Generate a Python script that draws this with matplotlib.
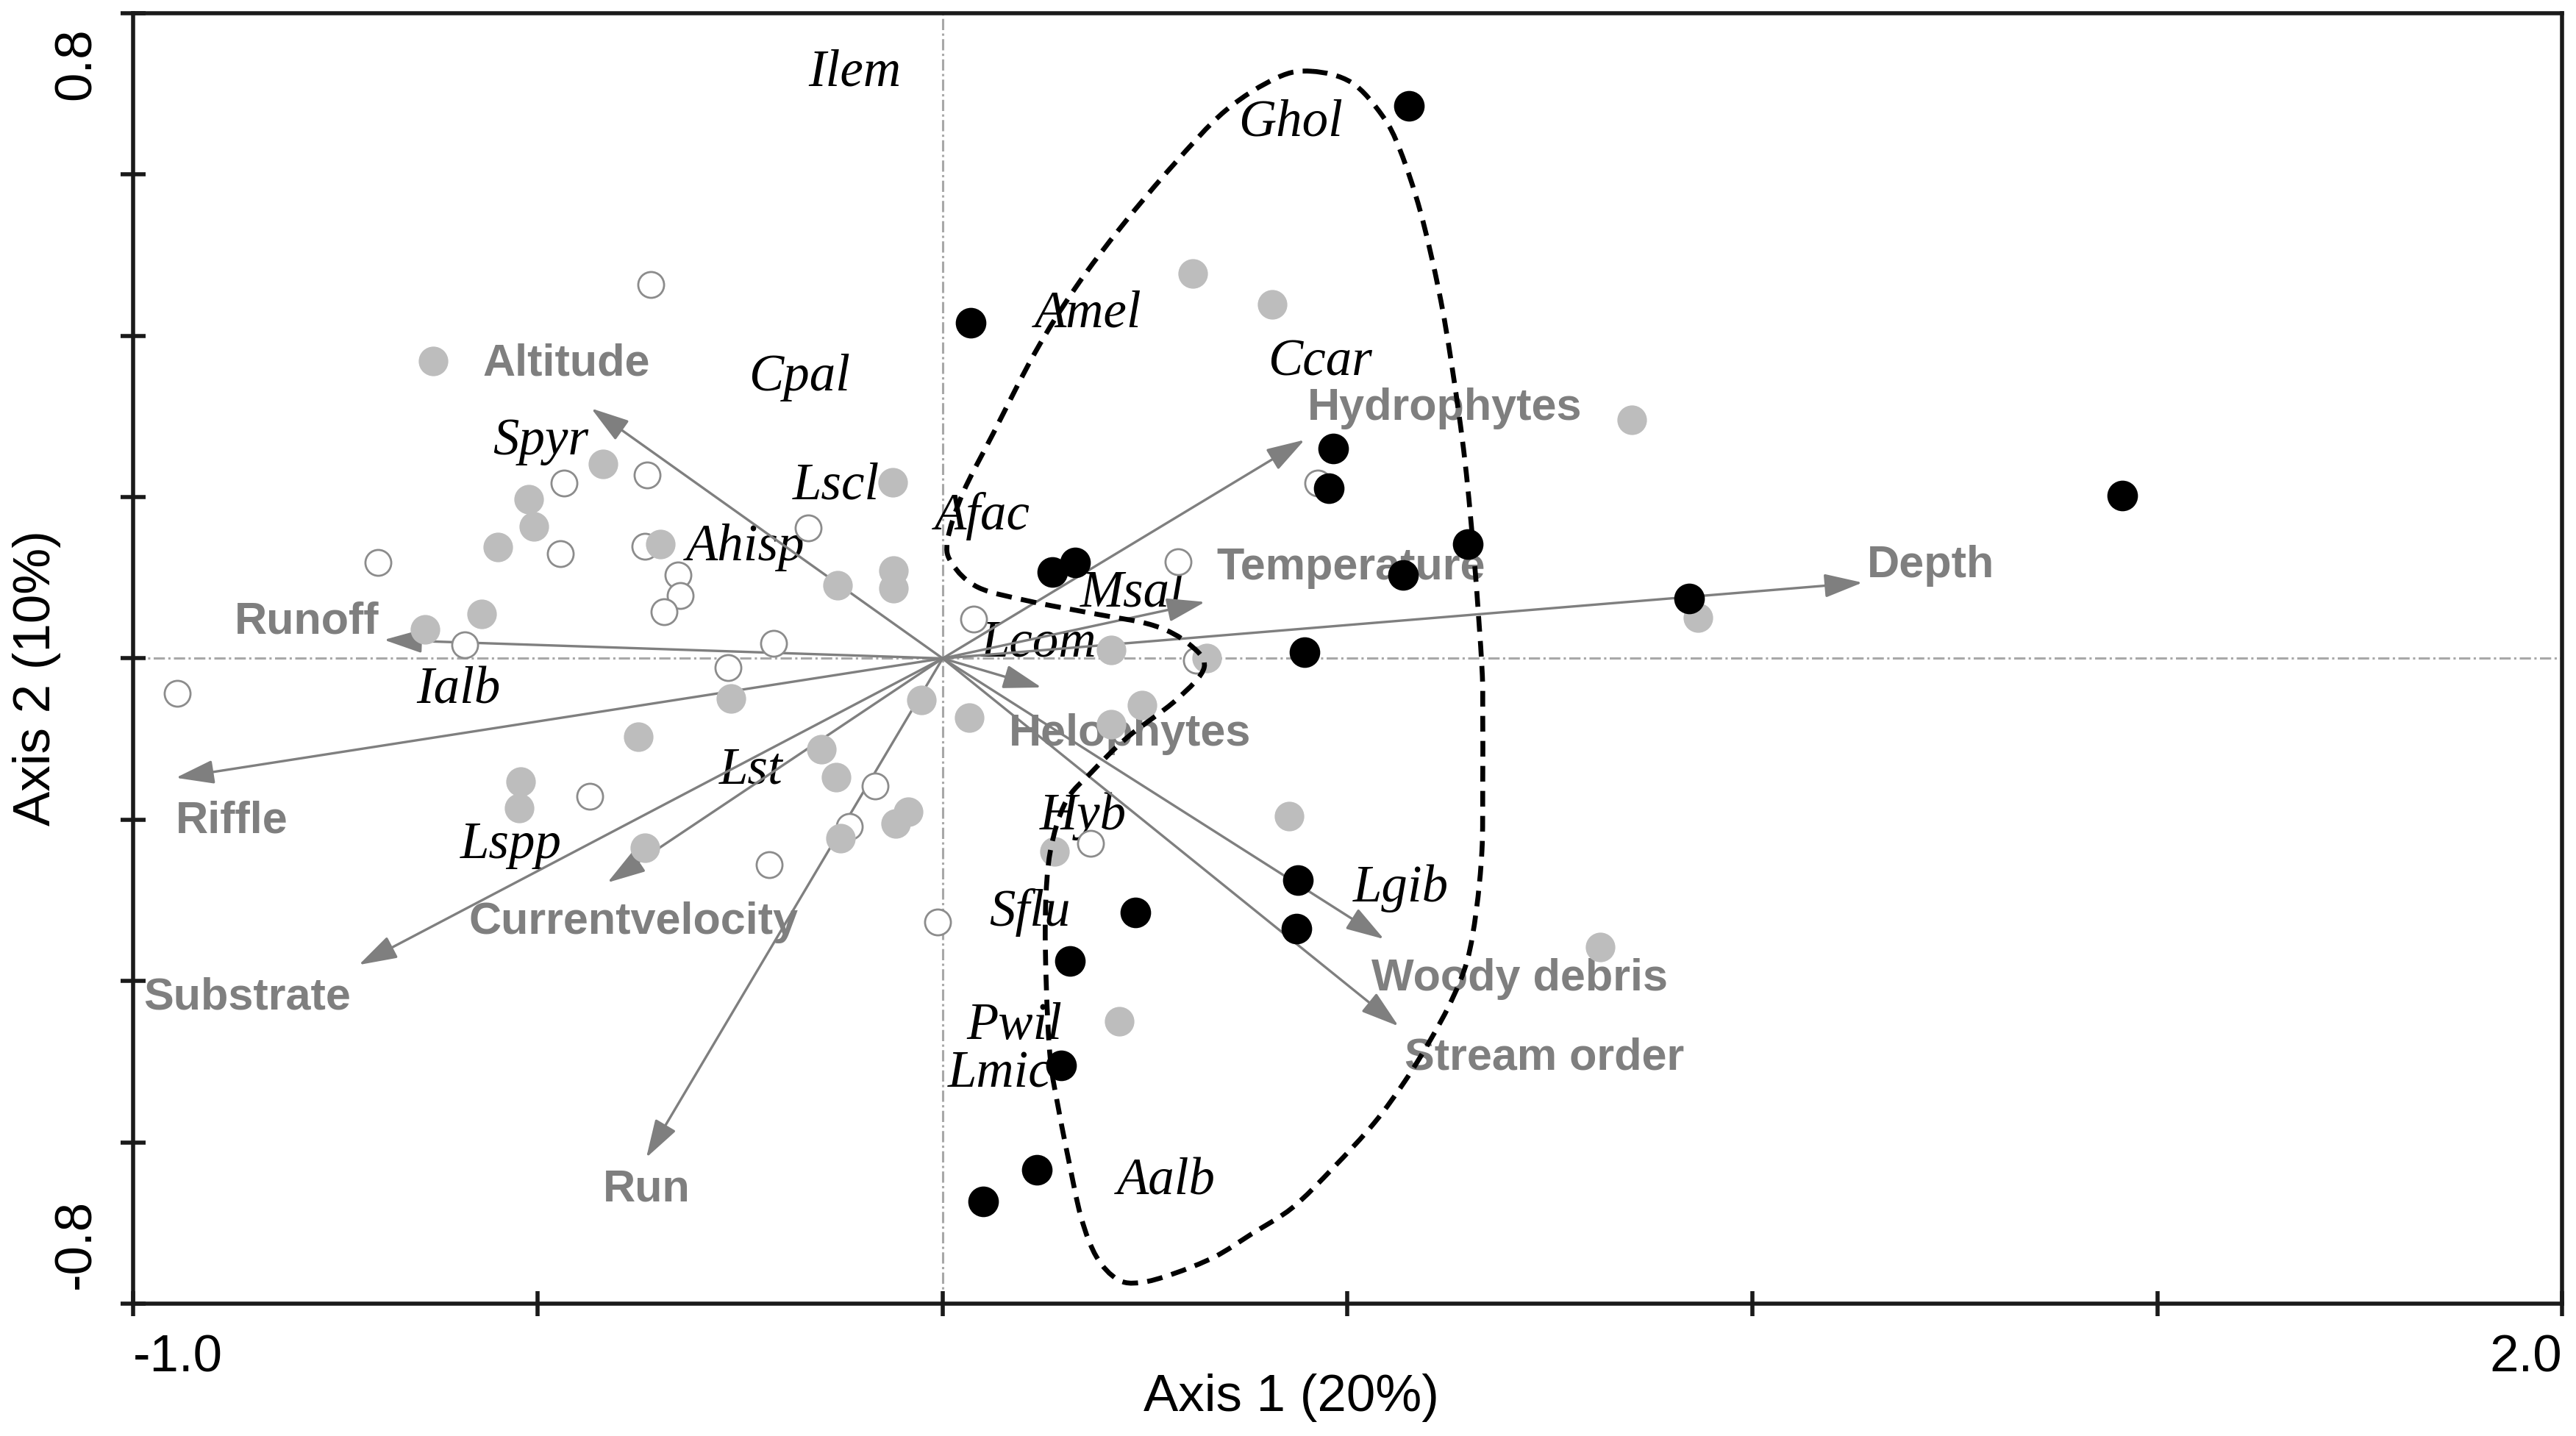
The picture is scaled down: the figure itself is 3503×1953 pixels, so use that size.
import numpy as np
import matplotlib
matplotlib.use('Agg')
import matplotlib.pyplot as plt
from matplotlib.path import Path
from matplotlib.patches import PathPatch
import matplotlib.transforms as mtransforms

# site scores (axis 1, axis 2)
black_x = [0.576, 0.035, 0.482, 0.477, 0.649, 0.569, 0.135, 0.164, 0.447, 0.922,
           1.457, 0.439, 0.437, 0.238, 0.157, 0.146, 0.116, 0.050]
black_y = [0.685, 0.416, 0.260, 0.211, 0.142, 0.103, 0.107, 0.119, 0.008, 0.074,
           0.202, -0.275, -0.335, -0.315, -0.375, -0.505, -0.634, -0.673]

gray_x = [-0.629, -0.419, -0.511, -0.505, -0.549, -0.349, -0.569, -0.639, -0.062, -0.130,
          -0.061, -0.061, -0.261, -0.026, -0.376, -0.150, -0.132, -0.521, -0.523, -0.058,
          -0.043, -0.126, -0.368, 0.309, 0.407, 0.851, 0.208, 0.326, 0.933, 0.246,
          0.208, 0.033, 0.428, 0.138, 0.218, 0.812]
gray_y = [0.369, 0.241, 0.197, 0.164, 0.138, 0.142, 0.055, 0.036, 0.218, 0.091,
          0.109, 0.087, -0.050, -0.052, -0.097, -0.113, -0.147, -0.153, -0.186, -0.205,
          -0.190, -0.223, -0.235, 0.477, 0.439, 0.296, 0.010, 0.000, 0.051, -0.058,
          -0.082, -0.073, -0.196, -0.239, -0.450, -0.358]

open_x = [-0.360, -0.468, -0.365, -0.697, -0.472, -0.368, -0.166, -0.327, -0.324, -0.344,
          -0.590, -0.209, -0.945, -0.265, -0.436, -0.083, -0.115, -0.214, -0.006, 0.463,
          0.291, 0.038, 0.313, 0.183]
open_y = [0.464, 0.217, 0.227, 0.119, 0.130, 0.139, 0.162, 0.103, 0.078, 0.058,
          0.017, 0.019, -0.043, -0.011, -0.171, -0.158, -0.208, -0.256, -0.327, 0.217,
          0.120, 0.049, -0.002, -0.229]

# environmental variables (arrow tips) and where their names sit
env_names = ['Altitude', 'Runoff', 'Riffle', 'Substrate', 'Currentvelocity', 'Run',
             'Hydrophytes', 'Temperature', 'Depth', 'Helophytes', 'Woody debris', 'Stream order']
env_x = [-0.434, -0.690, -0.947, -0.721, -0.414, -0.366, 0.447, 0.324, 1.136, 0.122, 0.545, 0.563]
env_y = [0.310, 0.023, -0.148, -0.380, -0.278, -0.619, 0.271, 0.070, 0.094, -0.036, -0.348, -0.456]
env_lab_x = [-0.465, -0.785, -0.878, -0.859, -0.382, -0.366, 0.620, 0.504, 1.220, 0.231, 0.713, 0.743]
env_lab_y = [0.365, 0.045, -0.202, -0.421, -0.327, -0.659, 0.310, 0.112, 0.115, -0.094, -0.398, -0.496]

# species
sp_names = ['Ilem', 'Ghol', 'Amel', 'Ccar', 'Afac', 'Msal', 'Lcom', 'Cpal', 'Spyr', 'Lscl',
            'Ahisp', 'Ialb', 'Lst', 'Lspp', 'Hyb', 'Lgib', 'Sflu', 'Pwil', 'Lmic', 'Aalb']
sp_x = [-0.109, 0.430, 0.180, 0.466, 0.049, 0.234, 0.119, -0.177, -0.496, -0.132,
        -0.244, -0.598, -0.237, -0.533, 0.173, 0.566, 0.108, 0.089, 0.071, 0.276]
sp_y = [0.726, 0.664, 0.427, 0.367, 0.176, 0.081, 0.019, 0.348, 0.269, 0.214,
        0.138, -0.040, -0.139, -0.232, -0.196, -0.285, -0.315, -0.456, -0.516, -0.649]

# outline around the black group
hull_x = [0.456, 0.505, 0.543, 0.565, 0.590, 0.613, 0.629, 0.645, 0.657, 0.666,
          0.667, 0.667, 0.666, 0.659, 0.648, 0.629, 0.603, 0.571, 0.533, 0.482,
          0.432, 0.381, 0.336, 0.285, 0.244, 0.216, 0.190, 0.171, 0.155, 0.143,
          0.133, 0.128, 0.127, 0.133, 0.152, 0.184, 0.228, 0.289, 0.323, 0.304,
          0.260, 0.184, 0.107, 0.044, 0.012, 0.006, 0.025, 0.063, 0.114, 0.165,
          0.222, 0.285, 0.349, 0.413]
hull_y = [0.728, 0.714, 0.673, 0.630, 0.554, 0.455, 0.362, 0.245, 0.117, -0.011,
          -0.067, -0.159, -0.239, -0.313, -0.374, -0.423, -0.472, -0.524, -0.576, -0.632,
          -0.681, -0.714, -0.742, -0.763, -0.774, -0.770, -0.742, -0.693, -0.619, -0.558,
          -0.497, -0.405, -0.313, -0.239, -0.178, -0.141, -0.098, -0.051, -0.011, 0.018,
          0.041, 0.056, 0.071, 0.088, 0.117, 0.146, 0.205, 0.280, 0.379, 0.461,
          0.537, 0.612, 0.679, 0.720]


def closed_curve(xs, ys):
    pts = np.column_stack([xs, ys])
    n = len(pts)
    verts = [pts[0]]
    codes = [Path.MOVETO]
    for i in range(n):
        p0, p1, p2, p3 = pts[i - 1], pts[i], pts[(i + 1) % n], pts[(i + 2) % n]
        verts += [p1 + (p2 - p0) / 6, p2 - (p3 - p1) / 6, p2]
        codes += [Path.CURVE4] * 3
    return Path(verts, codes)


plt.rcParams['font.family'] = ['Liberation Sans', 'DejaVu Sans']

fig = plt.figure(figsize=(17.515, 9.765), dpi=200)
ax = fig.add_axes([0.0516, 0.0922, 0.943, 0.8986])
ax.set_xlim(-1.0, 2.0)
ax.set_ylim(-0.8, 0.8)

zl = dict(color='#a8a8a8', lw=1.1, ls=(0, (5, 1.5, 1, 1.5)), zorder=0.5)
ax.axhline(0, **zl)
ax.axvline(0, **zl)

envc = '#7f7f7f'
for name, tx, ty, lx, ly in zip(env_names, env_x, env_y, env_lab_x, env_lab_y):
    ax.annotate('', xy=(tx, ty), xytext=(0, 0),
                arrowprops=dict(arrowstyle='-|>,head_length=0.8,head_width=0.25',
                                color=envc, lw=1.2, mutation_scale=20,
                                shrinkA=0, shrinkB=0), zorder=2)
    ax.text(lx, ly, name, color=envc, fontsize=22, fontweight='bold',
            ha='center', va='center', zorder=1.5)

for name, x, y in zip(sp_names, sp_x, sp_y):
    ax.text(x, y, name, family='Liberation Serif', style='italic', fontsize=25.5,
            color='black', ha='center', va='center', zorder=1.5)

ax.scatter(open_x, open_y, s=160, facecolor='white', edgecolor='#8c8c8c', lw=1.0, zorder=3)
ax.scatter(gray_x, gray_y, s=210, color='#bdbdbd', lw=0, zorder=3.1)
ax.scatter(black_x, black_y, s=225, color='black', lw=0, zorder=3.2)

ax.add_patch(PathPatch(closed_curve(hull_x, hull_y), fill=False, ec='black',
                       lw=2.4, ls=(0, (3.2, 1.9)), zorder=5))

for s in ax.spines.values():
    s.set_linewidth(2.0)
    s.set_color('#1a1a1a')

xt = np.arange(-1.0, 2.01, 0.5)
yt = np.arange(-0.8, 0.81, 0.2)
ax.set_xticks(xt)
ax.set_yticks(yt)
ax.set_xticklabels(['-1.0'] + [''] * (len(xt) - 2) + ['2.0'], fontsize=25.5)
ax.set_yticklabels(['-0.8'] + [''] * (len(yt) - 2) + ['0.8'], fontsize=25.5, rotation=90)
ax.tick_params(direction='inout', length=12, width=2, color='#1a1a1a')
ax.tick_params(axis='x', pad=9)
ax.tick_params(axis='y', pad=9.5)

xl = ax.get_xticklabels()
xl[0].set_ha('left')
xl[-1].set_ha('right')
yl = ax.get_yticklabels()
yl[0].set_va('bottom')
yl[-1].set_va('top')
yl[0].set_transform(yl[0].get_transform() + mtransforms.ScaledTranslation(0, 7 / 72, fig.dpi_scale_trans))
yl[-1].set_transform(yl[-1].get_transform() + mtransforms.ScaledTranslation(0, -7 / 72, fig.dpi_scale_trans))

fig.text(0.5013, 0.0266, 'Axis 1 (20%)', fontsize=25.5, ha='center', va='center')
fig.text(0.0142, 0.528, 'Axis 2 (10%)', fontsize=25.5, ha='center', va='center', rotation=90)

fig.savefig('out.png', dpi=200)
